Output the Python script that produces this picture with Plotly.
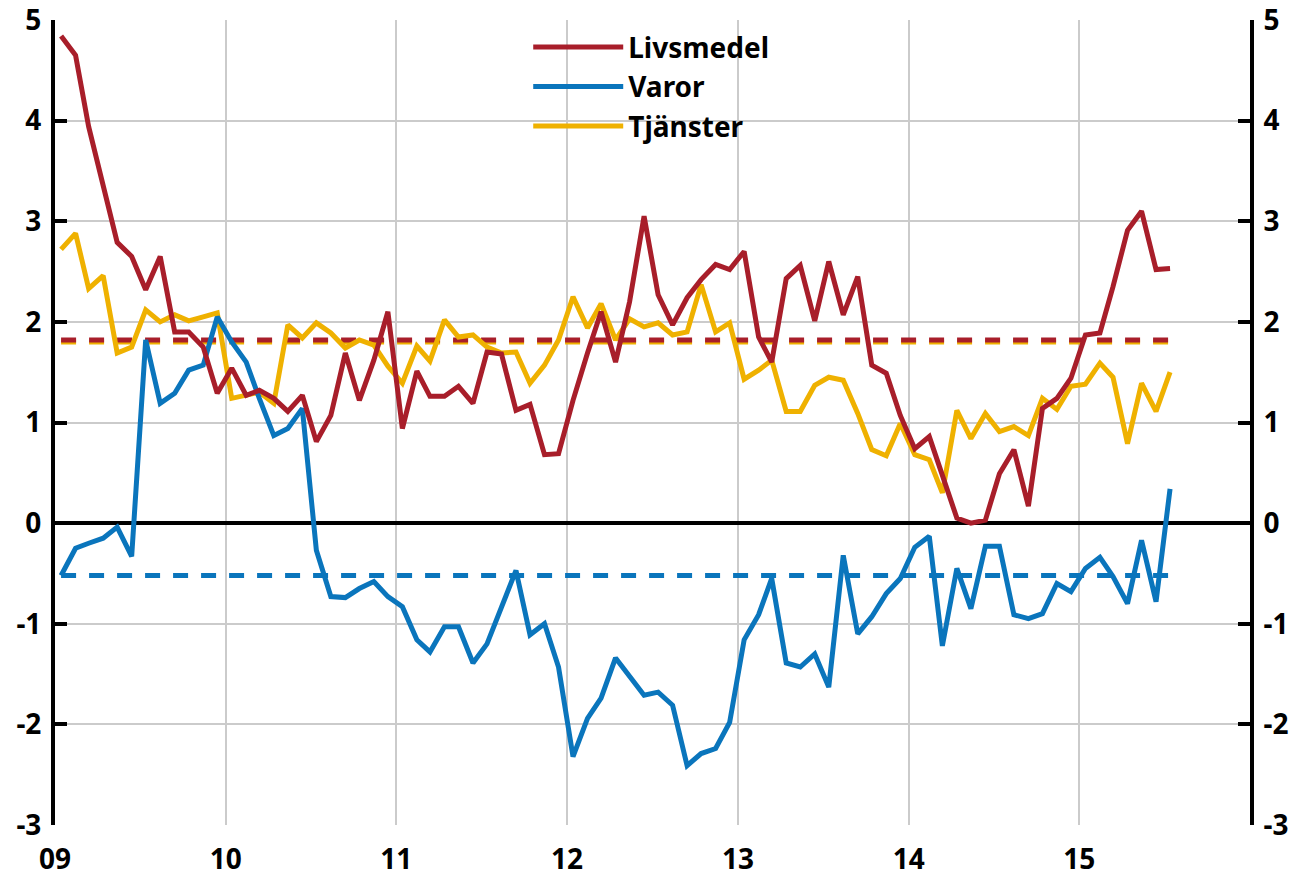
import pandas as pd
import plotly.graph_objects as go

# ---- data (monthly, Jan 2009 - Jul 2015) ----
start_month = "2009-01-01"
n_months = 79
tick_years = ["2009", "2010", "2011", "2012", "2013", "2014", "2015"]
tick_labels = ["09", "10", "11", "12", "13", "14", "15"]
y_tick_values = [-3, -2, -1, 0, 1, 2, 3, 4, 5]
y_tick_labels = ["-3", "-2", "-1", "0", "1", "2", "3", "4", "5"]

livsmedel = [4.84, 4.65, 3.94, 3.36, 2.79, 2.65, 2.32, 2.65, 1.90, 1.90, 1.75, 1.29,
             1.54, 1.27, 1.32, 1.24, 1.11, 1.27, 0.81, 1.07, 1.69, 1.22, 1.62, 2.10,
             0.94, 1.51, 1.26, 1.26, 1.36, 1.19, 1.70, 1.68, 1.12, 1.18, 0.68, 0.69,
             1.22, 1.69, 2.10, 1.60, 2.20, 3.05, 2.27, 1.97, 2.24, 2.42, 2.57, 2.52,
             2.70, 1.85, 1.60, 2.43, 2.56, 2.01, 2.60, 2.07, 2.45, 1.57, 1.49, 1.07,
             0.74, 0.86, 0.48, 0.05, 0.00, 0.03, 0.49, 0.73, 0.17, 1.14, 1.24, 1.44,
             1.87, 1.89, 2.35, 2.91, 3.10, 2.52, 2.53]

varor = [-0.52, -0.25, -0.20, -0.15, -0.04, -0.33, 1.82, 1.19, 1.29, 1.52, 1.57, 2.05,
         1.80, 1.60, 1.24, 0.87, 0.94, 1.14, -0.27, -0.73, -0.74, -0.65, -0.58, -0.73,
         -0.83, -1.16, -1.28, -1.03, -1.03, -1.39, -1.20, -0.83, -0.47, -1.11, -1.00, -1.43,
         -2.32, -1.94, -1.74, -1.34, -1.53, -1.71, -1.68, -1.81, -2.41, -2.29, -2.24, -1.98,
         -1.16, -0.91, -0.55, -1.39, -1.43, -1.30, -1.63, -0.32, -1.10, -0.93, -0.70, -0.55,
         -0.24, -0.13, -1.22, -0.45, -0.85, -0.23, -0.23, -0.91, -0.95, -0.90, -0.60, -0.68,
         -0.45, -0.34, -0.53, -0.80, -0.17, -0.78, 0.34]

tjanster = [2.72, 2.88, 2.33, 2.46, 1.69, 1.75, 2.12, 2.00, 2.07, 2.01, 2.05, 2.09,
            1.24, 1.27, 1.30, 1.19, 1.97, 1.84, 1.99, 1.89, 1.74, 1.82, 1.77, 1.56,
            1.39, 1.76, 1.61, 2.02, 1.85, 1.87, 1.75, 1.69, 1.70, 1.39, 1.57, 1.82,
            2.25, 1.94, 2.18, 1.82, 2.03, 1.95, 1.99, 1.87, 1.90, 2.37, 1.90, 1.99,
            1.43, 1.52, 1.62, 1.11, 1.11, 1.37, 1.45, 1.42, 1.09, 0.73, 0.67, 0.99,
            0.68, 0.63, 0.30, 1.12, 0.84, 1.09, 0.91, 0.96, 0.87, 1.24, 1.13, 1.36,
            1.38, 1.59, 1.45, 0.79, 1.39, 1.11, 1.50]

# historical averages (dashed lines)
livsmedel_mean = 1.82
tjanster_mean = 1.80
varor_mean = -0.52

# ---- styles ----
RED = "#A81E2A"
BLUE = "#0A75BC"
YELLOW = "#EFB100"
GRID = "#CBCBCB"
FONT = "Noto Sans"
LW = 5

dates = pd.date_range(start_month, periods=n_months, freq="MS") + pd.Timedelta(days=13)

fig = go.Figure()

# dashed average lines
for val, col in [(tjanster_mean, YELLOW), (livsmedel_mean, RED), (varor_mean, BLUE)]:
    fig.add_trace(go.Scatter(x=dates, y=[val] * n_months, mode="lines",
                             line=dict(color=col, width=LW, dash="15px,13px"),
                             showlegend=False, hoverinfo="skip"))

fig.add_trace(go.Scatter(x=dates, y=tjanster, mode="lines", name="Tjänster",
                         line=dict(color=YELLOW, width=LW), legendrank=3))
fig.add_trace(go.Scatter(x=dates, y=varor, mode="lines", name="Varor",
                         line=dict(color=BLUE, width=LW), legendrank=2))
fig.add_trace(go.Scatter(x=dates, y=livsmedel, mode="lines", name="Livsmedel",
                         line=dict(color=RED, width=LW), legendrank=1))

# invisible trace to anchor the right-hand axis
fig.add_trace(go.Scatter(x=dates, y=varor, mode="lines", yaxis="y2",
                         line=dict(width=0), opacity=0, showlegend=False,
                         hoverinfo="skip"))

tickfont = dict(family=FONT, size=28, color="black", weight="bold")

yaxis_common = dict(range=[-3, 5], tickvals=y_tick_values, ticktext=y_tick_labels,
                    showline=True, linecolor="black", linewidth=4,
                    ticks="inside", ticklen=12, tickwidth=4, tickcolor="black",
                    tickfont=tickfont, ticklabelstandoff=4, automargin=False,
                    ticklabeloverflow="allow")

fig.update_layout(
    width=1294, height=877,
    margin=dict(l=55, r=44, t=20, b=52),
    paper_bgcolor="white", plot_bgcolor="white",
    showlegend=True,
    legend=dict(x=0.396, y=0.997, xanchor="left", yanchor="top",
                bgcolor="rgba(0,0,0,0)", font=dict(family=FONT, size=28,
                                                   color="black", weight="bold"),
                itemwidth=90, tracegroupgap=0),
    xaxis=dict(type="date", range=["2009-01-01", "2016-01-01"],
               tickvals=[pd.Timestamp(y + "-01-01") for y in tick_years],
               ticktext=tick_labels, showgrid=True, gridcolor=GRID, gridwidth=1.5,
               showline=False, ticks="", zeroline=False, tickfont=tickfont,
               ticklabelstandoff=15, automargin=False, ticklabeloverflow="allow"),
    yaxis=dict(**yaxis_common, showgrid=True, gridcolor=GRID, gridwidth=1.5,
               zeroline=True, zerolinecolor="black", zerolinewidth=4),
    yaxis2=dict(**yaxis_common, overlaying="y", side="right",
                showgrid=False, zeroline=False),
)

fig.write_html("out.html", config={"displayModeBar": False},
               post_script="document.body.style.margin='0';document.body.style.padding='0';")
